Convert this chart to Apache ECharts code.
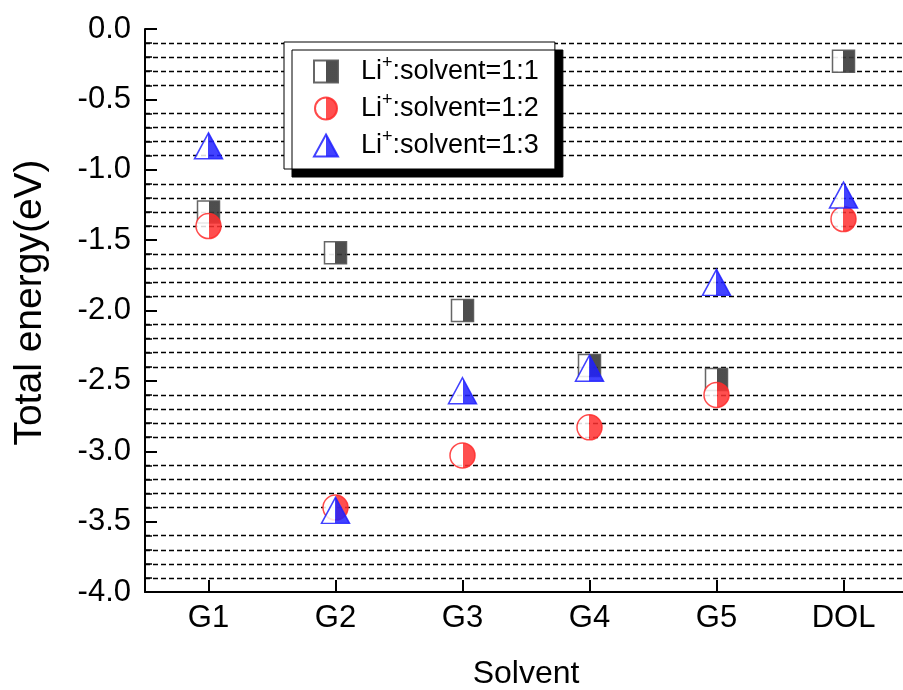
<!DOCTYPE html>
<html>
<head>
<meta charset="utf-8">
<script src="https://cdn.jsdelivr.net/npm/echarts@6/dist/echarts.min.js"></script>
<style>
html,body{margin:0;padding:0;background:#fff;}
#chart{width:903px;height:690px;}
</style>
</head>
<body>
<div id="chart"></div>
<script>
const categories = ['G1', 'G2', 'G3', 'G4', 'G5', 'DOL'];
const ratio11 = [-1.30, -1.59, -2.00, -2.39, -2.49, -0.23];
const ratio12 = [-1.40, -3.40, -3.03, -2.83, -2.60, -1.35];
const ratio13 = [-0.83, -3.42, -2.57, -2.41, -1.80, -1.18];
const seriesNames = ['Li+:solvent=1:1', 'Li+:solvent=1:2', 'Li+:solvent=1:3'];
const yTicks = { min: -4.0, max: 0.0, interval: 0.5 };

const FONT = 'Liberation Sans, Arial, sans-serif';

function half(color) {
  return {
    type: 'linear', x: 0, y: 0, x2: 1, y2: 0,
    colorStops: [
      { offset: 0, color: '#ffffff' },
      { offset: 0.5, color: '#ffffff' },
      { offset: 0.5, color: color },
      { offset: 1, color: color }
    ]
  };
}

const chart = echarts.init(document.getElementById('chart'), null, { renderer: 'canvas' });
chart.setOption({
  animation: false,
  backgroundColor: '#ffffff',
  textStyle: { fontFamily: FONT, color: '#000' },
  grid: { left: 145, top: 29, width: 762, height: 563, containLabel: false, outerBoundsMode: 'none' },
  legend: {
    orient: 'vertical',
    left: 284,
    top: 42,
    padding: [12, 16, 10, 29],
    itemWidth: 24,
    itemHeight: 22,
    itemGap: 6,
    selectedMode: false,
    backgroundColor: '#ffffff',
    borderColor: '#000',
    borderWidth: 1,
    shadowColor: '#000',
    shadowBlur: 0,
    shadowOffsetX: 8,
    shadowOffsetY: 8,
    data: seriesNames,
    formatter: function (name) {
      const rest = name.split('+')[1];
      return '{gap|}{a|Li}{sup|+}{a|' + rest + '}';
    },
    textStyle: {
      fontFamily: FONT,
      color: '#000',
      rich: {
        gap: { width: 18, lineHeight: 27 },
        a: { fontSize: 27, fontFamily: FONT, color: '#000', lineHeight: 27 },
        sup: { fontSize: 18, fontFamily: FONT, color: '#000', verticalAlign: 'bottom', lineHeight: 14, padding: [0, 0, 13, 0] }
      }
    }
  },
  xAxis: {
    type: 'category',
    data: categories,
    boundaryGap: true,
    name: 'Solvent',
    nameLocation: 'middle',
    nameGap: 66,
    nameTextStyle: { fontSize: 32, fontFamily: FONT, color: '#000' },
    axisLine: { show: true, onZero: false, lineStyle: { color: '#000', width: 2 } },
    axisTick: { show: true, inside: true, length: 12, alignWithLabel: true, lineStyle: { color: '#000', width: 2 } },
    axisLabel: { fontSize: 31, fontFamily: FONT, color: '#000', margin: 11 },
    splitLine: { show: false }
  },
  yAxis: {
    type: 'value',
    min: yTicks.min,
    max: yTicks.max,
    interval: yTicks.interval,
    name: 'Total energy(eV)',
    nameLocation: 'middle',
    nameGap: 95,
    nameTextStyle: { fontSize: 39, fontFamily: FONT, color: '#000', padding: [0, 0, 0, 16] },
    axisLine: { show: true, lineStyle: { color: '#000', width: 2 } },
    axisTick: { show: true, inside: true, length: 12, lineStyle: { color: '#000', width: 2 } },
    minorTick: { show: true, splitNumber: 5, length: 7, lineStyle: { color: '#000', width: 1.5 } },
    axisLabel: {
      fontSize: 31, fontFamily: FONT, color: '#000', margin: 14,
      formatter: function (v) { return v.toFixed(1); }
    },
    splitLine: { show: false },
    minorSplitLine: { show: true, lineStyle: { color: '#000', width: 1.3, type: [5, 3] } }
  },
  series: [
    {
      name: seriesNames[0], type: 'scatter', data: ratio11,
      symbol: 'rect', symbolSize: 22, z: 3,
      itemStyle: { color: half('#3a3a3a'), borderColor: '#555', borderWidth: 1.5, opacity: 0.9 }
    },
    {
      name: seriesNames[1], type: 'scatter', data: ratio12,
      symbol: 'circle', symbolSize: 25, z: 4,
      itemStyle: { color: half('#ff3030'), borderColor: '#ff2a2a', borderWidth: 1.5, opacity: 0.85 }
    },
    {
      name: seriesNames[2], type: 'scatter', data: ratio13,
      symbol: 'triangle', symbolSize: [28, 26], z: 5,
      itemStyle: { color: half('#2020ff'), borderColor: '#2020ff', borderWidth: 1.5, opacity: 0.85 }
    }
  ]
});
</script>
</body>
</html>
